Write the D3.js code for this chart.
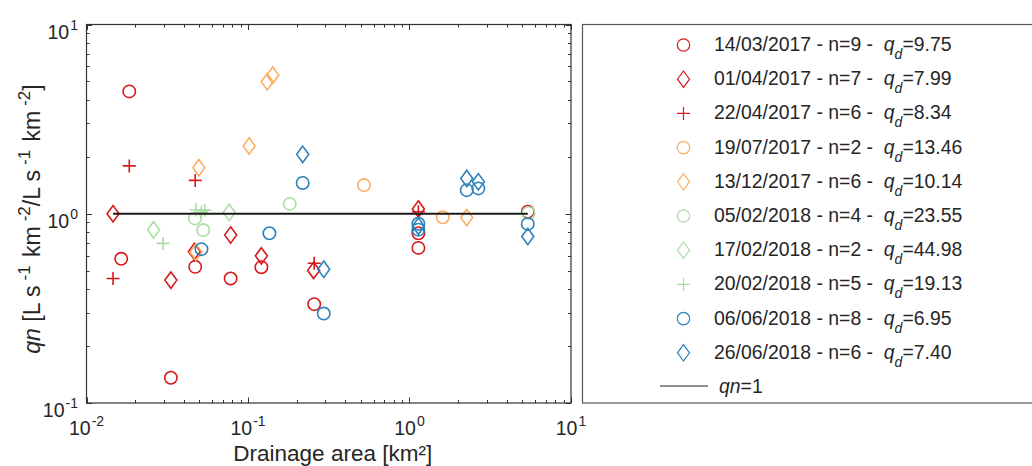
<!DOCTYPE html>
<html>
<head>
<meta charset="utf-8">
<script src="https://cdn.jsdelivr.net/npm/d3@7"></script>
<style>
  html, body { margin: 0; padding: 0; background: #fff; }
  svg { display: block; font-family: Arial, "Liberation Sans", sans-serif; }
</style>
</head>
<body>
<svg id="chart" width="1032" height="466"></svg>
<script>
// ---- Campaign metadata ----
const dates   = ["14/03/2017", "01/04/2017", "22/04/2017", "19/07/2017", "13/12/2017",
                 "05/02/2018", "17/02/2018", "20/02/2018", "06/06/2018", "26/06/2018"];
const nSites  = [9, 7, 6, 2, 6, 4, 2, 5, 8, 6];
const qdValue = ["9.75", "7.99", "8.34", "13.46", "10.14", "23.55", "44.98", "19.13", "6.95", "7.40"];

// ---- Drainage area [km²] and normalised specific discharge qn, one pair per campaign ----
const area_140317 = [0.0184, 0.0164, 0.0333, 0.0471, 0.0781, 0.121, 0.257, 1.135, 1.135, 5.40];
const qn_140317   = [4.43, 0.578, 0.136, 0.524, 0.455, 0.522, 0.333, 0.789, 0.660, 1.026];

const area_010417 = [0.0146, 0.0333, 0.0466, 0.0781, 0.121, 0.255, 1.135];
const qn_010417   = [1.00, 0.446, 0.632, 0.772, 0.599, 0.502, 1.06];

const area_220417 = [0.0146, 0.0184, 0.0471, 0.257, 1.135];
const qn_220417   = [0.455, 1.79, 1.50, 0.548, 1.024];

const area_190717 = [0.522, 1.607];
const qn_190717   = [1.417, 0.958];

const area_131217 = [0.0496, 0.1016, 0.1315, 0.1423, 0.0476, 2.262];
const qn_131217   = [1.752, 2.28, 4.98, 5.40, 0.627, 0.954];

const area_050218 = [0.0469, 0.0528, 0.1814, 5.45];
const qn_050218   = [0.945, 0.820, 1.127, 1.01];

const area_170218 = [0.0260, 0.0765];
const qn_170218   = [0.822, 1.016];

const area_200218 = [0.0298, 0.0477, 0.0540, 0.0515];
const qn_200218   = [0.697, 1.05, 1.045, 1.02];

const area_060618 = [0.0515, 0.1357, 0.2181, 0.2945, 1.135, 1.135, 2.262, 2.669, 5.40];
const qn_060618   = [0.650, 0.789, 1.455, 0.297, 0.886, 0.824, 1.333, 1.361, 0.884];

const area_260618 = [0.2181, 0.2945, 1.135, 2.262, 2.669, 5.40];
const qn_260618   = [2.06, 0.509, 0.86, 1.537, 1.475, 0.758];

// Reference line qn = 1 spans the observed area range
const refArea = [0.0146, 5.40];
const refQn   = [1, 1];

// Axis ticks
const xMajor = [0.01, 0.1, 1, 10];
const xExp   = ["-2", "-1", "0", "1"];
const yMajor = [0.1, 1, 10];
const yExp   = ["-1", "0", "1"];

// ---- Styling ----
const RED = "#d7191c", ORANGE = "#fdae61", GREEN = "#abdda4", BLUE = "#2b83ba";
const seriesArea  = [area_140317, area_010417, area_220417, area_190717, area_131217,
                     area_050218, area_170218, area_200218, area_060618, area_260618];
const seriesQn    = [qn_140317, qn_010417, qn_220417, qn_190717, qn_131217,
                     qn_050218, qn_170218, qn_200218, qn_060618, qn_260618];
const seriesColor = [RED, RED, RED, ORANGE, ORANGE, GREEN, GREEN, GREEN, BLUE, BLUE];
const seriesShape = ["circle", "diamond", "plus", "circle", "diamond",
                     "circle", "diamond", "plus", "circle", "diamond"];

const TEXT = "#262626";
const AXIS = "#333333";

const svg = d3.select("#chart");

const plot = { left: 86.5, right: 571, top: 24.5, bottom: 403 };

const x = d3.scaleLog().domain([0.01, 10]).range([plot.left, plot.right]);
const y = d3.scaleLog().domain([0.1, 10]).range([plot.bottom, plot.top]);

function markerPath(shape) {
  if (shape === "circle") return d3.arc()({ innerRadius: 0, outerRadius: 6.2, startAngle: 0, endAngle: 2 * Math.PI });
  if (shape === "diamond") return "M0,-8.2L6,0L0,8.2L-6,0Z";
  return "M-6.5,0H6.5M0,-6.5V6.5";
}

// ---- Minor / major ticks (inward, on all four sides) ----
const xMinor = [], yMinor = [];
[0.01, 0.1, 1].forEach(d => { for (let k = 2; k <= 9; k++) xMinor.push(d * k); });
[0.1, 1].forEach(d => { for (let k = 2; k <= 9; k++) yMinor.push(d * k); });

const ticks = svg.append("g").attr("stroke", AXIS).attr("stroke-width", 1);
function xTick(v, len) {
  const px = Math.round(x(v)) + 0.5;
  ticks.append("line").attr("x1", px).attr("x2", px).attr("y1", plot.bottom).attr("y2", plot.bottom - len);
  ticks.append("line").attr("x1", px).attr("x2", px).attr("y1", plot.top).attr("y2", plot.top + len);
}
function yTick(v, len) {
  const py = Math.round(y(v)) + 0.5;
  ticks.append("line").attr("y1", py).attr("y2", py).attr("x1", plot.left).attr("x2", plot.left + len);
  ticks.append("line").attr("y1", py).attr("y2", py).attr("x1", plot.right).attr("x2", plot.right - len);
}
xMinor.forEach(v => xTick(v, 3));
xMajor.forEach(v => xTick(v, 5.5));
yMinor.forEach(v => yTick(v, 3));
yMajor.forEach(v => yTick(v, 5.5));

// Plot frame
svg.append("rect")
  .attr("x", plot.left).attr("y", plot.top)
  .attr("width", plot.right - plot.left).attr("height", plot.bottom - plot.top)
  .attr("fill", "none").attr("stroke", AXIS).attr("stroke-width", 1.2);

// ---- Tick labels as powers of ten ----
function powLabel(px, py, exp, anchor) {
  const t = svg.append("text")
    .attr("x", px).attr("y", py)
    .attr("text-anchor", anchor)
    .attr("fill", TEXT)
    .style("font-size", "19.5px");
  t.append("tspan").text("10");
  t.append("tspan").attr("dy", -9).attr("dx", 1).style("font-size", "14px").text(exp);
}
xMajor.forEach((v, i) => powLabel(x(v), 434.5, xExp[i], "middle"));
yMajor.forEach((v, i) => powLabel(78, y(v) + 14, yExp[i], "end"));

// ---- Axis titles ----
svg.append("text")
  .attr("x", (plot.left + plot.right) / 2 + 4).attr("y", 460.5)
  .attr("text-anchor", "middle").attr("fill", TEXT)
  .style("font-size", "22.5px")
  .text("Drainage area [km²]");

const yl = svg.append("text")
  .attr("transform", `translate(40,219) rotate(-90)`)
  .attr("text-anchor", "middle").attr("fill", TEXT)
  .style("font-size", "23px");
yl.append("tspan").style("font-style", "italic").text("qn");
yl.append("tspan").text(" [L s");
yl.append("tspan").attr("dy", -10).attr("dx", 5).style("font-size", "17px").text("-1");
yl.append("tspan").attr("dy", 10).attr("dx", 2).text(" km");
yl.append("tspan").attr("dy", -10).attr("dx", 5).style("font-size", "17px").text("-2");
yl.append("tspan").attr("dy", 10).text("/L s");
yl.append("tspan").attr("dy", -10).attr("dx", 5).style("font-size", "17px").text("-1");
yl.append("tspan").attr("dy", 10).attr("dx", 2).text(" km");
yl.append("tspan").attr("dy", -10).attr("dx", 5).style("font-size", "17px").text("-2");
yl.append("tspan").attr("dy", 10).text("]");

// ---- Data markers ----
const marks = svg.append("g");
seriesArea.forEach((areas, s) => {
  const pts = areas.map((a, i) => ({ a, q: seriesQn[s][i] }));
  marks.append("g").selectAll("path").data(pts).join("path")
    .attr("transform", d => `translate(${x(d.a)},${y(d.q)})`)
    .attr("d", markerPath(seriesShape[s]))
    .attr("fill", "none")
    .attr("stroke", seriesColor[s])
    .attr("stroke-width", 1.6);
});

// qn = 1 reference line
svg.append("path")
  .datum(refArea.map((a, i) => [a, refQn[i]]))
  .attr("d", d3.line().x(d => x(d[0])).y(d => y(d[1])))
  .attr("fill", "none").attr("stroke", "#1a1a1a").attr("stroke-width", 2);

// ---- Legend ----
const leg = { left: 582, top: 24.5, bottom: 403 };
svg.append("rect")
  .attr("x", leg.left + 0.5).attr("y", leg.top)
  .attr("width", 1060 - leg.left).attr("height", leg.bottom - leg.top)
  .attr("fill", "#fff").attr("stroke", "#555").attr("stroke-width", 1.2);

const rowY = i => 45 + i * 34.2;
const markX = 683.5, textX = 714;

dates.forEach((dt, i) => {
  const cy = rowY(i);
  svg.append("path")
    .attr("transform", `translate(${markX},${cy})`)
    .attr("d", markerPath(seriesShape[i]))
    .attr("fill", "none").attr("stroke", seriesColor[i]).attr("stroke-width", 1.2);
  const t = svg.append("text")
    .attr("x", textX).attr("y", cy + 6)
    .attr("fill", TEXT).style("font-size", "19.4px")
    .attr("xml:space", "preserve");
  t.append("tspan").text(`${dt} - n=${nSites[i]} -  `);
  t.append("tspan").style("font-style", "italic").text("q");
  t.append("tspan").attr("dy", 8).style("font-style", "italic").style("font-size", "14px").text("d");
  t.append("tspan").attr("dy", -8).text(`=${qdValue[i]}`);
});

const lastY = rowY(10) - 1;
svg.append("line")
  .attr("x1", 660).attr("x2", 708).attr("y1", lastY).attr("y2", lastY)
  .attr("stroke", "#1a1a1a").attr("stroke-width", 1);
const lt = svg.append("text")
  .attr("x", 719).attr("y", lastY + 7)
  .attr("fill", TEXT).style("font-size", "19.4px");
lt.append("tspan").style("font-style", "italic").text("qn");
lt.append("tspan").text("=1");
</script>
</body>
</html>
